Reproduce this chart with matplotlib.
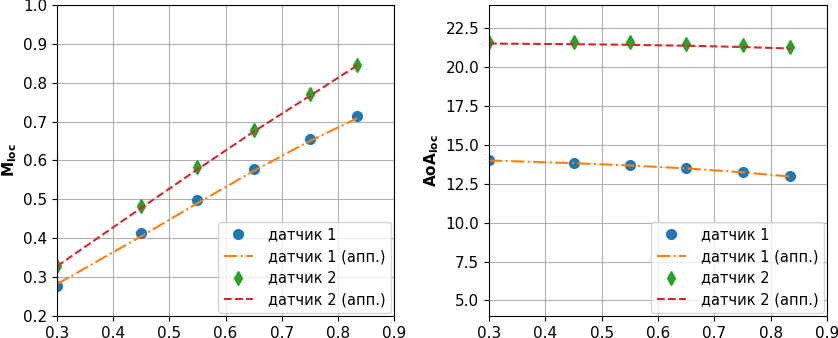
import matplotlib.pyplot as plt

# ── Data ──────────────────────────────────────────────────────────────────────
mach = [0.3, 0.45, 0.55, 0.65, 0.75, 0.835]

m_s1 = [0.277, 0.413, 0.498, 0.578, 0.655, 0.714]
m_s1_fit = [0.282, 0.405, 0.490, 0.573, 0.650, 0.709]
m_s2 = [0.328, 0.482, 0.583, 0.678, 0.771, 0.845]
m_s2_fit = [0.328, 0.478, 0.577, 0.674, 0.766, 0.845]

aoa_s1 = [14.04, 13.87, 13.72, 13.54, 13.25, 13.03]
aoa_s1_fit = [14.0, 13.83, 13.68, 13.49, 13.24, 12.97]
aoa_s2 = [21.6, 21.6, 21.6, 21.52, 21.45, 21.3]
aoa_s2_fit = [21.52, 21.48, 21.44, 21.38, 21.3, 21.2]

plt.rcParams.update({
    "font.family": "DejaVu Sans",
    "font.size": 11,
})

fig = plt.figure(figsize=(8.38, 3.38), dpi=100)
ax1 = fig.add_axes([57 / 838, 22 / 338, 337 / 838, 311 / 338])
ax2 = fig.add_axes([489 / 838, 22 / 338, 338 / 838, 311 / 338])


def draw(ax, s1, s1_fit, s2, s2_fit):
    ax.plot(mach, s1, "o", color="C0", ms=7, label="датчик 1")
    ax.plot(mach, s1_fit, "-.", color="C1", lw=1.5, label="датчик 1 (апп.)")
    ax.plot(mach, s2, "d", color="C2", ms=7, label="датчик 2")
    ax.plot(mach, s2_fit, "--", color="C3", lw=1.5, label="датчик 2 (апп.)")
    ax.set_xlim(0.3, 0.9)
    ax.grid(True)
    ax.legend(loc="lower right", fontsize=10.5, borderaxespad=0.2,
              labelspacing=0.45, handletextpad=1.0)


draw(ax1, m_s1, m_s1_fit, m_s2, m_s2_fit)
ax1.set_ylim(0.2, 1.0)
ax1.set_ylabel(r"$\mathbf{M_{loc}}$", fontsize=11, labelpad=3)

draw(ax2, aoa_s1, aoa_s1_fit, aoa_s2, aoa_s2_fit)
ax2.set_ylim(4, 24)
ax2.set_yticks([5.0, 7.5, 10.0, 12.5, 15.0, 17.5, 20.0, 22.5])
ax2.set_ylabel(r"$\mathbf{AoA_{loc}}$", fontsize=11, labelpad=3)

fig.savefig("out.png", dpi=100)
